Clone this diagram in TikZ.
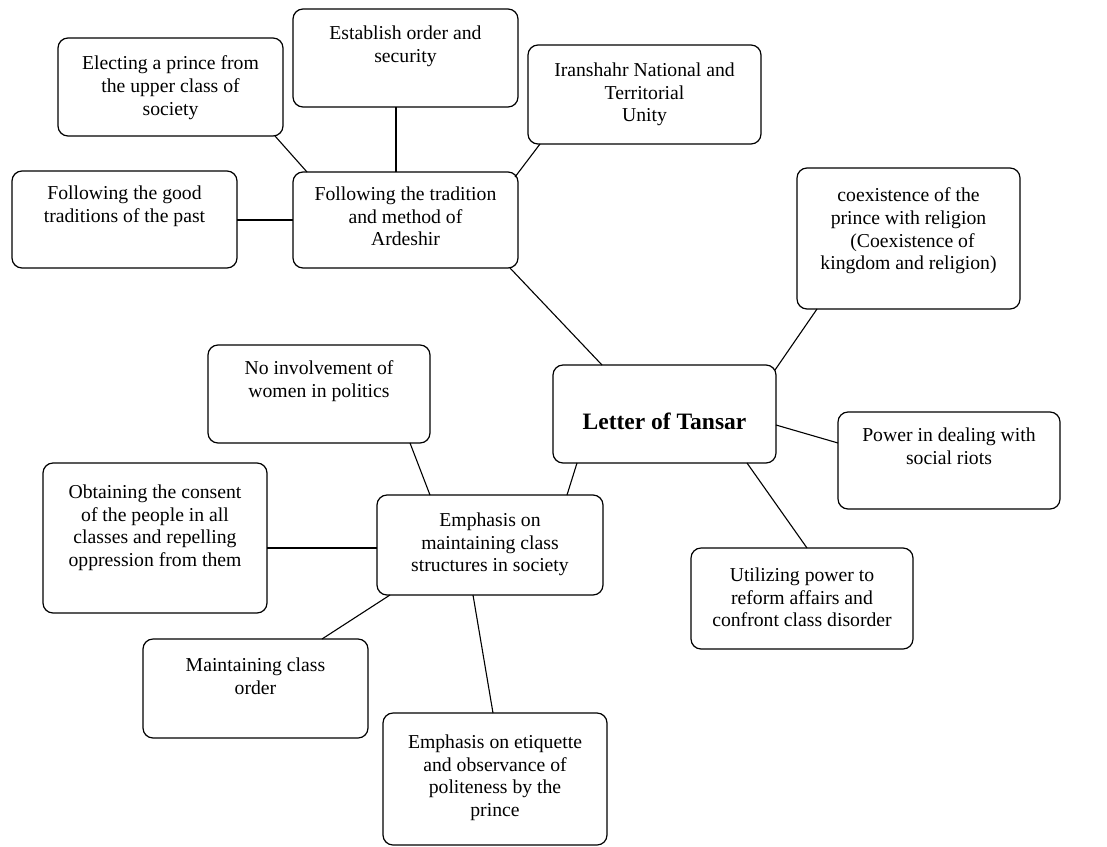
\documentclass[tikz,border=0pt]{standalone}
\usepackage{fontspec}
\setmainfont{Liberation Serif}
\usetikzlibrary{calc}
\tikzset{
  box/.style={draw, line width=1.2pt, rounded corners=10pt, inner sep=0pt, outer sep=0pt},
  txt/.style={font=\fontsize{19.7}{22.8}\selectfont, align=center, inner sep=0pt, anchor=north},
  conn/.style={line width=1.1pt},
}
% name, x1, y1, x2, y2, text offset, text
\newcommand\mybox[7]{%
  \node[box, minimum width={#4-#2}, minimum height={#5-#3}] (#1) at ({(#2+#4)/2},{(#3+#5)/2}) {};
  \node[txt] (#1t) at ([yshift=-#6pt]#1.north) {#7};
}
\begin{document}
\begin{tikzpicture}[x=1pt,y=-1pt]
\useasboundingbox[fill=white] (0,0) rectangle (1107,846);

\mybox{elect}{58}{38}{283}{136}{17.5}{Electing a prince from\\the upper class of\\society}
\mybox{estab}{293}{9}{518}{107}{16.5}{Establish order and\\security}
\mybox{iran}{528}{45}{761}{144}{17.5}{Iranshahr National and\\Territorial\\Unity}
\mybox{follow}{293}{172}{518}{268}{14.5}{Following the tradition\\and method of\\Ardeshir}
\mybox{good}{12}{171}{237}{268}{14.5}{Following the good\\traditions of the past}
\mybox{coex}{797}{168}{1020}{309}{19.5}{coexistence of the\\prince with religion\\\hspace*{8pt}(Coexistence of\\kingdom and religion)}
\node[box, minimum width=223, minimum height=98] (letter) at (664.5,414) {};
\node[font=\fontsize{23.5}{28}\bfseries, inner sep=0pt] (lettert) at ([yshift=-7pt]letter.center) {Letter of Tansar};
\mybox{power}{838}{412}{1060}{509}{15.5}{Power in dealing with\\social riots}
\mybox{util}{691}{548}{913}{649}{19.5}{Utilizing power to\\reform affairs and\\confront class disorder}
\mybox{noinv}{208}{345}{430}{443}{15.5}{No involvement of\\women in politics}
\mybox{obtain}{43}{463}{267}{613}{21.5}{Obtaining the consent\\of the people in all\\classes and repelling\\oppression from them}
\mybox{emph}{377}{495}{603}{595}{17.5}{Emphasis on\\maintaining class\\structures in society}
\mybox{maint}{143}{639}{368}{738}{18.5}{Maintaining class\\order}
\mybox{etiq}{383}{713}{607}{845}{21.5}{Emphasis on etiquette\\and observance of\\politeness by the\\prince}

% connectors
\draw[conn] ([xshift=-8pt]elect.south east) -- ([xshift=14pt]follow.north west);
\draw[conn] ([xshift=-9.5pt]estab.south) -- ([xshift=-9.5pt]follow.north);
\draw[conn] ([yshift=-0.5pt]good.east) -- (follow.west);
\draw[conn] ([xshift=12pt]iran.south west) -- ([xshift=-3pt,yshift=-5pt]follow.north east);
\draw[conn] ([xshift=-8pt]follow.south east) -- ([xshift=49pt]letter.north west);
\draw[conn] ([xshift=20pt]coex.south west) -- ([xshift=-1pt,yshift=-5pt]letter.north east);
\draw[conn] ([yshift=-11pt]letter.east) -- ([yshift=17.5pt]power.west);
\draw[conn] ([xshift=-29pt]letter.south east) -- ([xshift=116pt]util.north west);
\draw[conn] ([xshift=24pt]letter.south west) -- ([xshift=-36pt]emph.north east);
\draw[conn] ([xshift=202pt]noinv.south west) -- ([xshift=53pt]emph.north west);
\draw[conn] ([yshift=-10pt]obtain.east) -- ([yshift=-3pt]emph.west);
\draw[conn] ([xshift=13pt]emph.south west) -- ([xshift=-46pt]maint.north east);
\draw[conn] ([xshift=96pt]emph.south west) -- ([xshift=110pt]etiq.north west);
\end{tikzpicture}
\end{document}
